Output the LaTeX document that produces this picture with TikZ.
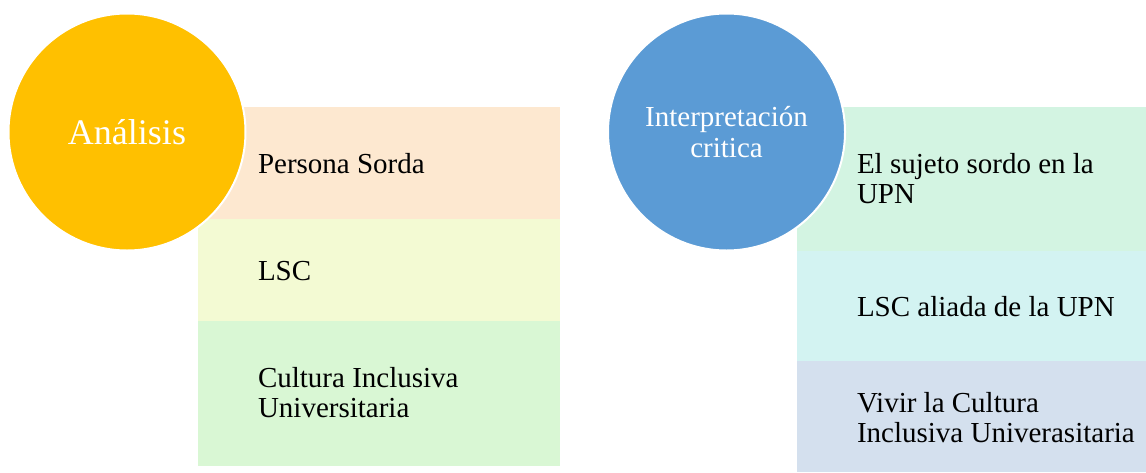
\documentclass[tikz,border=0pt]{standalone}
\usepackage{fontspec}
\setmainfont{Liberation Serif}
\definecolor{circA}{HTML}{FFC000}
\definecolor{circB}{HTML}{5B9BD5}
\definecolor{peach}{HTML}{FDE8D0}
\definecolor{lyellow}{HTML}{F3FAD3}
\definecolor{lgreen}{HTML}{D9F7D4}
\definecolor{mint}{HTML}{D3F4E2}
\definecolor{lcyan}{HTML}{D3F3F2}
\definecolor{lblue}{HTML}{D4E0EE}
\begin{document}
\begin{tikzpicture}[x=1pt,y=-1pt,
  box/.style={rectangle, inner sep=0pt, outer sep=0pt, draw=none, anchor=north west},
  item/.style={anchor=base west, inner sep=0pt, outer sep=0pt, font=\fontsize{29}{30}\selectfont, text=black},
  bigcirc/.style={circle, minimum size=237pt, inner sep=0pt, draw=white, line width=2pt, text=white, align=center}]
\useasboundingbox (0,0) rectangle (1146,472);
% left group
\node[box, fill=peach, minimum width=362pt, minimum height=112pt] (a1) at (198,107) {};
\node[box, fill=lyellow, minimum width=362pt, minimum height=102pt] (a2) at (198,219) {};
\node[box, fill=lgreen, minimum width=362pt, minimum height=145pt] (a3) at (198,321) {};
\node[bigcirc, fill=circA, font=\fontsize{36}{38}\selectfont] (ca) at (127,132) {Análisis};
\node[item] (ta1) at (258,173) {Persona Sorda};
\node[item] (ta2) at (258,280) {LSC};
\node[item] (ta3) at (258,387) {\begin{tabular}[t]{@{}l@{}}Cultura Inclusiva\\Universitaria\end{tabular}};
% right group
\node[box, fill=mint, minimum width=349pt, minimum height=144pt] (b1) at (797,107) {};
\node[box, fill=lcyan, minimum width=349pt, minimum height=110pt] (b2) at (797,251) {};
\node[box, fill=lblue, minimum width=349pt, minimum height=111pt] (b3) at (797,361) {};
\node[bigcirc, fill=circB, font=\fontsize{29}{31}\selectfont] (cb) at (726.5,132) {Interpretación\\critica};
\node[item] (tb1) at (857,173) {\begin{tabular}[t]{@{}l@{}}El sujeto sordo en la\\UPN\end{tabular}};
\node[item] (tb2) at (857,316) {LSC aliada de la UPN};
\node[item] (tb3) at (857,412) {\begin{tabular}[t]{@{}l@{}}Vivir la Cultura\\Inclusiva Univerasitaria\end{tabular}};
\end{tikzpicture}
\end{document}
